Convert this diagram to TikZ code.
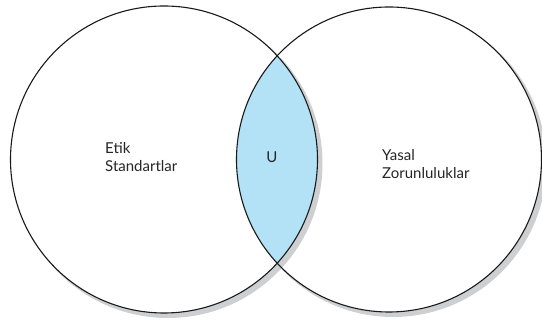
\documentclass[tikz,border=0pt]{standalone}
\usepackage{fontspec}
\setmainfont{Lato}
\definecolor{lensblue}{RGB}{179,226,247}
\definecolor{shadowgray}{RGB}{206,207,209}
\begin{document}
\begin{tikzpicture}[x=1pt,y=1pt,
  ring/.style={circle,draw=black!90,line width=1.1pt,inner sep=0pt},
  lbl/.style={anchor=base west,inner sep=0pt,font=\fontsize{15}{18}\selectfont,text=black!85}]
\useasboundingbox (0,0) rectangle (542,320);
% shadows of the circles (offset down-right)
\fill[shadowgray] (168,156.5) circle [radius=154.5pt];
\fill[shadowgray] (393,156.5) circle [radius=153.5pt];
\fill[white] (164,160.5) circle [radius=153.5pt];
\fill[white] (389,160.5) circle [radius=152.5pt];
% shadow of the lens
\begin{scope}
  \clip (168,156.5) circle [radius=154.5pt];
  \fill[shadowgray] (393,156.5) circle [radius=153.5pt];
\end{scope}
% lens
\begin{scope}
  \clip (164,160.5) circle [radius=153.5pt];
  \fill[lensblue] (389,160.5) circle [radius=152.5pt];
\end{scope}
% circles
\node[ring,minimum size=307pt] (L) at (164,160.5) {};
\node[ring,minimum size=305pt] (R) at (389,160.5) {};
% labels
\node[lbl] (etik) at (105,166) {Etik};
\node[lbl] (std) at (105,148) {Standartlar};
\node[lbl] (yasal) at (382,159) {Yasal};
\node[lbl] (zor) at (382,141) {Zorunluluklar};
\node[lbl,anchor=base] (u) at (272,157) {U};
\end{tikzpicture}
\end{document}
